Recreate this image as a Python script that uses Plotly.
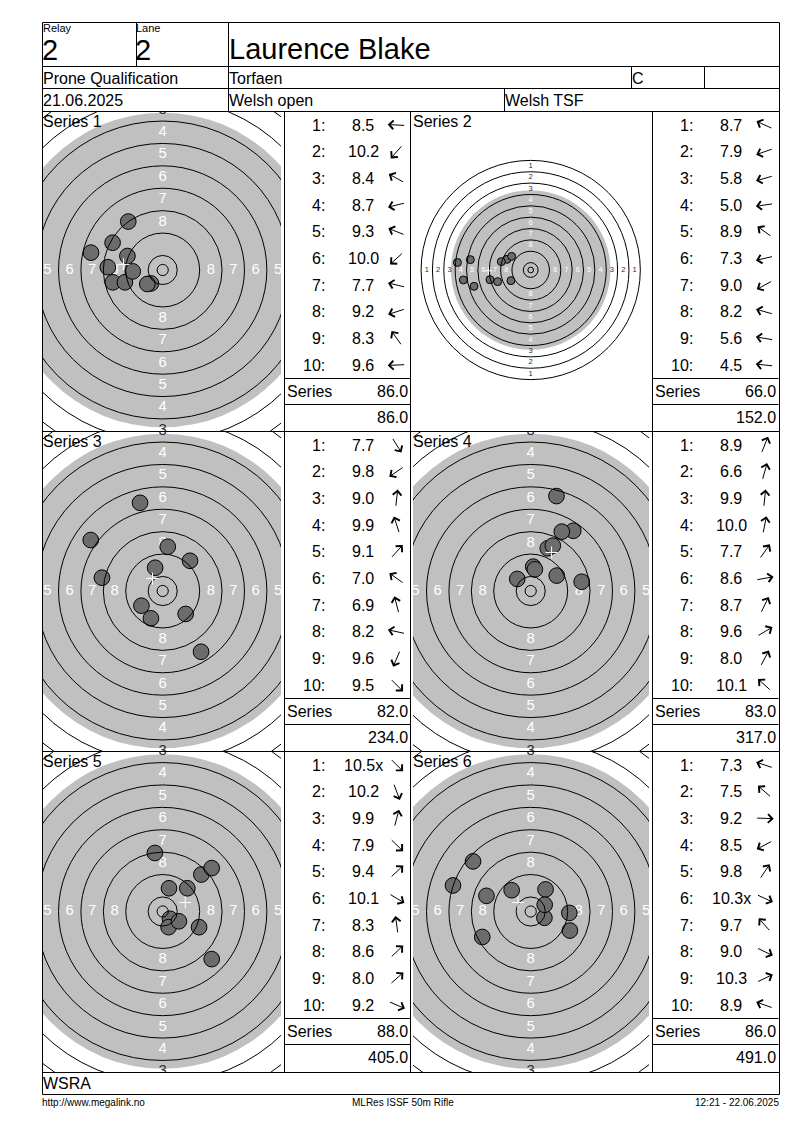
import math
import plotly.graph_objects as go

OFF = 8                     # page offset of the figure inside the html body
FIG_W, FIG_H = 792, 1122
FONT = "Liberation Sans, Arial, sans-serif"

# ---------------- header / footer text ----------------
relay_label, lane_label = "Relay", "Lane"
relay, lane = "2", "2"
shooter = "Laurence Blake"
event = "Prone Qualification"
club = "Torfaen"
shooter_class = "C"
match_date = "21.06.2025"
competition = "Welsh open"
venue = "Welsh TSF"
organisation = "WSRA"
footer_left = "http://www.megalink.no"
footer_mid = "MLRes ISSF 50m Rifle"
footer_right = "12:21 - 22.06.2025"

series_names = ["Series 1", "Series 2", "Series 3", "Series 4", "Series 5", "Series 6"]

# ---------------- decimal scores per shot ----------------
s1_scores = [8.5, 10.2, 8.4, 8.7, 9.3, 10.0, 7.7, 9.2, 8.3, 9.6]
s2_scores = [8.7, 7.9, 5.8, 5.0, 8.9, 7.3, 9.0, 8.2, 5.6, 4.5]
s3_scores = [7.7, 9.8, 9.0, 9.9, 9.1, 7.0, 6.9, 8.2, 9.6, 9.5]
s4_scores = [8.9, 6.6, 9.9, 10.0, 7.7, 8.6, 8.7, 9.6, 8.0, 10.1]
s5_scores = [10.5, 10.2, 9.9, 7.9, 9.4, 10.1, 8.3, 8.6, 8.0, 9.2]
s6_scores = [7.3, 7.5, 9.2, 8.5, 9.8, 10.3, 9.7, 9.0, 10.3, 8.9]

# inner-ten hits (shown with an "x")
s1_inner = [False] * 10
s2_inner = [False] * 10
s3_inner = [False] * 10
s4_inner = [False] * 10
s5_inner = [True, False, False, False, False, False, False, False, False, False]
s6_inner = [False, False, False, False, False, True, False, False, False, False]

# ---------------- shot positions, mm from centre (x right, y up) ----------------
s1_x = [-19.6, -4.2, -17.9, -17.8, -12.6, -5.5, -25.6, -13.5, -12.3, -10.7]
s1_y = [1.0, -4.8, 9.75, -4.4, 5.0, -5.0, 6.2, -4.4, 17.3, -0.5]
s2_x = [-16.7, -23.3, -39.9, -47.4, -13.4, -28.7, -13.9, -20.7, -42.5, -51.6]
s2_y = [7.5, -8.2, -11.5, -7.0, 9.6, -6.8, -7.5, 5.9, 7.3, 5.3]
s3_x = [13.7, -7.6, 1.8, -2.7, 9.75, -25.7, -8.1, -21.7, -4.2, 8.2]
s3_y = [-21.7, -5.25, 15.8, 8.3, 10.8, 18.2, 31.5, 4.75, -9.75, -8.2]
s4_x = [6.1, 9.2, 0.9, 1.5, 15.2, 18.2, 7.9, 9.3, 11.1, -4.8]
s4_y = [15.25, 33.9, 8.7, 7.75, 21.5, 3.3, 16.2, 5.5, 21.2, 4.3]
s5_x = [2.6, 2.1, 2.25, 17.5, 8.8, 5.8, -2.8, 13.8, 17.5, 13.0]
s5_y = [-2.6, -5.6, 8.3, -17.0, 8.3, -3.5, 20.9, 13.2, 15.5, -5.6]
s6_x = [-27.75, -20.6, 13.8, -17.3, 5.3, 4.9, -6.8, 14.0, 5.0, -15.8]
s6_y = [9.3, 17.9, -0.5, -9.1, 7.9, -2.25, 7.6, -6.8, 2.4, 5.6]

# ---------------- ISSF 50m rifle target (mm) ----------------
ring_numbers = [1, 2, 3, 4, 5, 6, 7, 8, 9, 10]
ring_radius_mm = [77.2, 69.2, 61.2, 53.2, 45.2, 37.2, 29.2, 21.2, 13.2, 5.2]
inner_ten_radius_mm = 2.0
aiming_black_radius_mm = 56.2
bullet_diameter_mm = 5.6
labelled_rings = [1, 2, 3, 4, 5, 6, 7, 8]

all_scores = [s1_scores, s2_scores, s3_scores, s4_scores, s5_scores, s6_scores]
all_inner = [s1_inner, s2_inner, s3_inner, s4_inner, s5_inner, s6_inner]
all_x = [s1_x, s2_x, s3_x, s4_x, s5_x, s6_x]
all_y = [s1_y, s2_y, s3_y, s4_y, s5_y, s6_y]

# ---------------- page geometry (layout, page pixels) ----------------
view_scale = [2.8, 1.42, 2.8, 2.8, 2.8, 2.8]   # px per mm
COL_CLIP = [(43, 281), (413, 649)]
COL_CX = [162.7, 530.7]
ROW_TOP = [111, 431, 751]
ROW_BOTTOM = [431, 751, 1072]
ROW_CY = [270.0, 591.0, 911.5]
TABLE_X = [284, 652]
LEFT, RIGHT = 42, 779
GRAY = "#c0c0c0"
SHOT = "#6c6c6c"


def floor_score(v):
    return int(round(v * 10)) // 10


series_total = [sum(floor_score(v) for v in sc) for sc in all_scores]
running_total = []
acc = 0
for t in series_total:
    acc += t
    running_total.append(acc)

fig = go.Figure()
shapes, annotations = [], []
axes = {
    "xaxis": dict(domain=[0, 1], range=[OFF, OFF + FIG_W], visible=False, fixedrange=True),
    "yaxis": dict(domain=[0, 1], range=[OFF + FIG_H, OFF], visible=False, fixedrange=True),
}


def hline(y, x0, x1):
    shapes.append(dict(type="line", xref="x", yref="y", x0=x0, x1=x1, y0=y, y1=y,
                       line=dict(color="black", width=1), layer="above"))


def vline(x, y0, y1):
    shapes.append(dict(type="line", xref="x", yref="y", x0=x, x1=x, y0=y0, y1=y1,
                       line=dict(color="black", width=1), layer="above"))


def text(x, y, s, size=16, xanchor="left", yanchor="middle", color="black"):
    annotations.append(dict(xref="x", yref="y", x=x, y=y, text=s, showarrow=False,
                            xanchor=xanchor, yanchor=yanchor,
                            font=dict(family=FONT, size=size, color=color)))


# ---------------- frame ----------------
for yy in [22.5, 66.5, 88.5, 111.5, 431.5, 751.5, 1072.5, 1094.5]:
    hline(yy, LEFT + 0.5, RIGHT + 0.5)
vline(LEFT + 0.5, 22.5, 1094.5)
vline(RIGHT + 0.5, 22.5, 1094.5)
vline(136.5, 22.5, 66.5)
vline(228.5, 22.5, 111.5)
vline(631.5, 66.5, 88.5)
vline(704.5, 66.5, 88.5)
vline(504.5, 88.5, 111.5)
for xx in [284.5, 410.5, 652.5]:
    vline(xx, 111.5, 1072.5)

# ---------------- header text ----------------
text(41, 28, relay_label, size=11)
text(134, 28, lane_label, size=11)
text(40, 50, relay, size=29)
text(133, 50, lane, size=29)
text(227, 49, shooter, size=29)
text(41, 78, event)
text(227, 78, club)
text(630, 78, shooter_class)
text(41, 100.5, match_date)
text(227, 100.5, competition)
text(503, 100.5, venue)
text(41, 1083.5, organisation)
text(40, 1102, footer_left, size=10)
text(403, 1102, footer_mid, size=10, xanchor="center")
text(781, 1102, footer_right, size=10, xanchor="right")

# ---------------- targets ----------------
R = aiming_black_radius_mm
for i in range(6):
    col, row = i % 2, i // 2
    s = view_scale[i]
    cx, cy = COL_CX[col], ROW_CY[row]
    x0, x1 = COL_CLIP[col]
    y0, y1 = ROW_TOP[row] + 1, ROW_BOTTOM[row]
    n = i + 2
    xa, ya = f"x{n}", f"y{n}"
    axes[f"xaxis{n}"] = dict(domain=[(x0 - OFF) / FIG_W, (x1 - OFF) / FIG_W],
                             range=[(x0 - cx) / s, (x1 - cx) / s],
                             visible=False, fixedrange=True, anchor=ya)
    axes[f"yaxis{n}"] = dict(domain=[1 - (y1 - OFF) / FIG_H, 1 - (y0 - OFF) / FIG_H],
                             range=[(cy - y1) / s, (cy - y0) / s],
                             visible=False, fixedrange=True, anchor=xa)
    shapes.append(dict(type="circle", xref=xa, yref=ya, x0=-R, x1=R, y0=-R, y1=R,
                       fillcolor=GRAY, line=dict(width=0), layer="below"))
    for r in ring_radius_mm + [inner_ten_radius_mm]:
        shapes.append(dict(type="circle", xref=xa, yref=ya, x0=-r, x1=r, y0=-r, y1=r,
                           fillcolor="rgba(0,0,0,0)", line=dict(color="black", width=1),
                           layer="above"))
    lx, ly, lt, lc = [], [], [], []
    for k in labelled_rings:
        rl = ring_radius_mm[k - 1] - 4.0
        for dx, dy in [(0, 1), (0, -1), (-1, 0), (1, 0)]:
            lx.append(dx * rl)
            ly.append(dy * rl)
            lt.append(str(k))
            lc.append("white" if rl < R else "#2a2a40")
    fig.add_trace(go.Scatter(x=lx, y=ly, text=lt, mode="text",
                             textfont=dict(family=FONT, size=5.3 * s, color=lc),
                             xaxis=xa, yaxis=ya, hoverinfo="skip", showlegend=False))
    fig.add_trace(go.Scatter(x=all_x[i], y=all_y[i], mode="markers",
                             marker=dict(size=bullet_diameter_mm * s, color=SHOT,
                                         line=dict(color="black", width=1)),
                             xaxis=xa, yaxis=ya, hoverinfo="skip", showlegend=False))
    mx = sum(all_x[i]) / len(all_x[i])
    my = sum(all_y[i]) / len(all_y[i])
    hl = (6 if s > 2 else 4) / s
    shapes.append(dict(type="line", xref=xa, yref=ya, x0=mx - hl, x1=mx + hl, y0=my, y1=my,
                       line=dict(color="white", width=1), layer="above"))
    shapes.append(dict(type="line", xref=xa, yref=ya, x0=mx, x1=mx, y0=my - hl, y1=my + hl,
                       line=dict(color="white", width=1), layer="above"))
    text(COL_CLIP[col][0] - 2, ROW_TOP[row], series_names[i], yanchor="top")

    # ---------------- score table ----------------
    tx, ty = TABLE_X[col], ROW_TOP[row]
    for j in range(10):
        yj = ty + 14 + 26.67 * j
        v = all_scores[i][j]
        text(tx + 43, yj, f"{j + 1}:", xanchor="right")
        text(tx + 79, yj, f"{v:.1f}" + ("x" if all_inner[i][j] else ""), xanchor="center")
        ang = math.atan2(all_y[i][j], all_x[i][j])
        L = 18
        acx = tx + 112.7
        hx, hy = acx + L / 2 * math.cos(ang), yj - L / 2 * math.sin(ang)
        tlx, tly = acx - L / 2 * math.cos(ang), yj + L / 2 * math.sin(ang)
        annotations.append(dict(xref="x", yref="y", axref="x", ayref="y", x=hx, y=hy, ax=tlx, ay=tly,
                                text="", showarrow=True, arrowhead=4, arrowsize=1.7,
                                arrowwidth=1, arrowcolor="black", standoff=0, startstandoff=0))
    hline(ty + 267.5, tx + 0.5, tx + 126.5)
    hline(ty + 293.5, tx + 0.5, tx + 126.5)
    text(tx + 1, ty + 280.5, "Series")
    text(tx + 126, ty + 280.5, f"{series_total[i]:.1f}", xanchor="right")
    text(tx + 126, ty + 306.5, f"{running_total[i]:.1f}", xanchor="right")

fig.update_layout(width=FIG_W, height=FIG_H, margin=dict(l=0, r=0, t=0, b=0), autosize=False,
                  paper_bgcolor="white", plot_bgcolor="rgba(0,0,0,0)", showlegend=False,
                  shapes=shapes, annotations=annotations, **axes)
fig.write_html("out.html")
